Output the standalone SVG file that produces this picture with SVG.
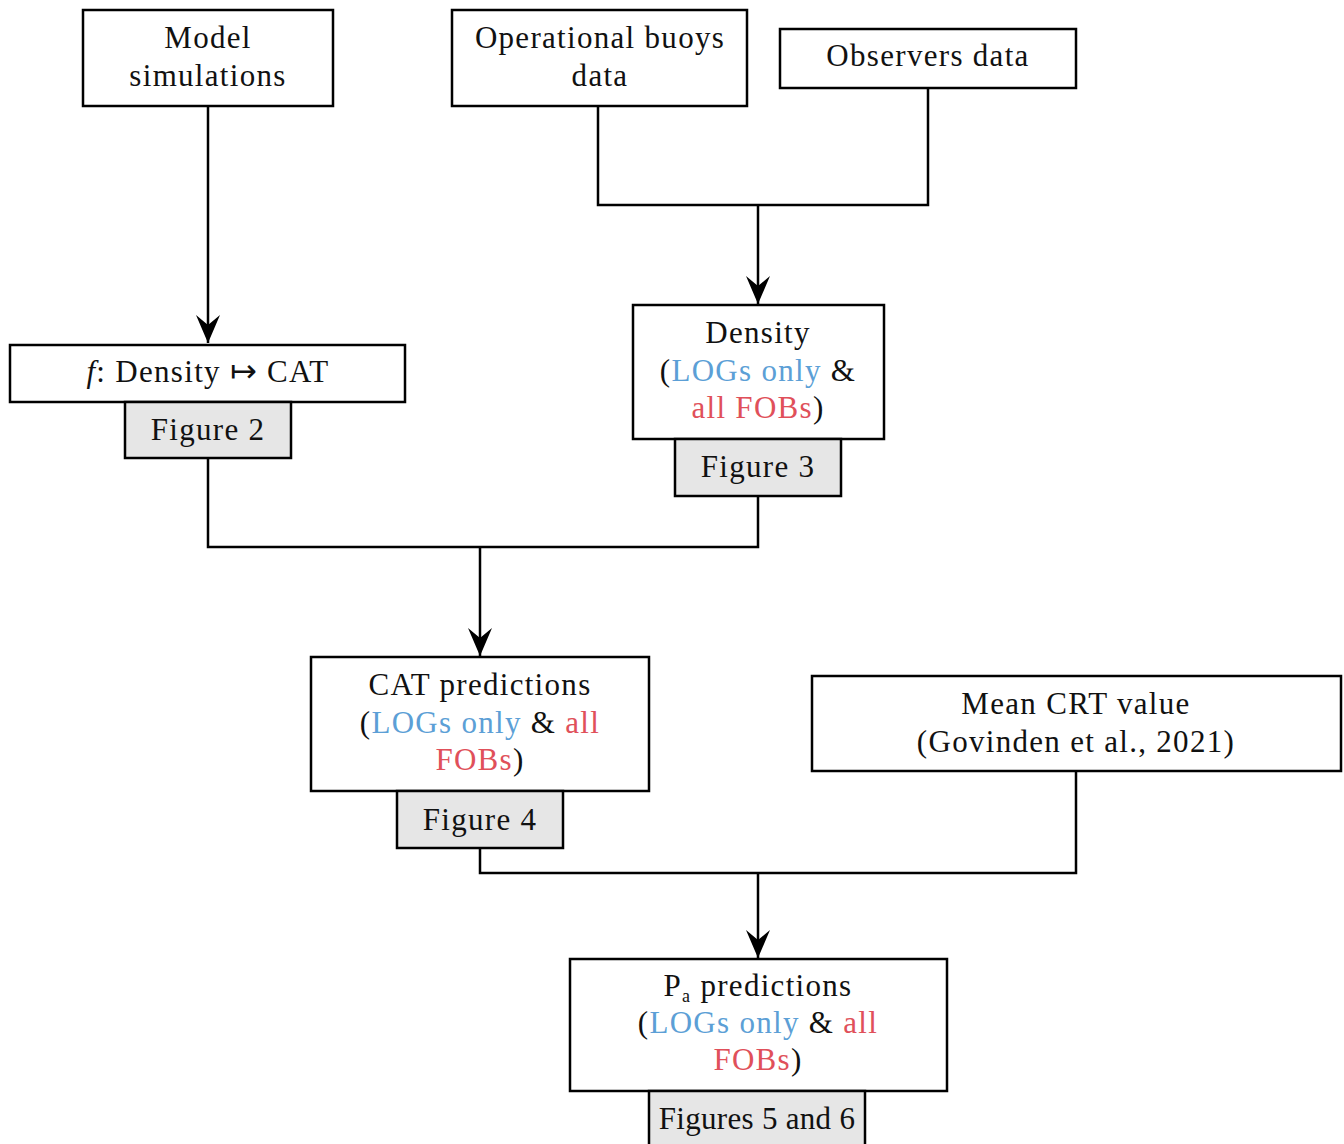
<svg xmlns="http://www.w3.org/2000/svg" width="1344" height="1144" viewBox="0 0 1344 1144">
<style>
.box{fill:#fff;stroke:#000;stroke-width:2.5}
.fig{fill:#e6e6e6;stroke:#000;stroke-width:2.5}
.t{font-family:"Liberation Serif","DejaVu Serif",serif;font-size:31px;fill:#111;text-anchor:middle;letter-spacing:1.3px}
.b{fill:#5c9fd6}
.r{fill:#e0505a}
.c{fill:none;stroke:#000;stroke-width:2.5}
</style>
<defs>
<marker id="arr" viewBox="-30 -14 32 28" refX="0" refY="0" markerWidth="32" markerHeight="28" markerUnits="userSpaceOnUse" orient="auto">
<path d="M0,0 L-28,-12 L-18,0 L-28,12 Z" fill="#000"/>
</marker>
</defs>
<rect width="1344" height="1144" fill="#fff"/>
<g id="connectors">
<path class="c" d="M208,106 V343" marker-end="url(#arr)"/>
<path class="c" d="M598,106 V205 H928 V88"/>
<path class="c" d="M758,205 V304" marker-end="url(#arr)"/>
<path class="c" d="M208,458 V547 H758 V496"/>
<path class="c" d="M480,547 V656" marker-end="url(#arr)"/>
<path class="c" d="M480,848 V873 H1076 V771"/>
<path class="c" d="M758,873 V958" marker-end="url(#arr)"/>
</g>
<g id="model">
<rect class="box" x="83" y="10" width="250" height="96"/>
<text class="t" x="208" y="48">Model</text>
<text class="t" x="208" y="86">simulations</text>
</g>
<g id="buoys">
<rect class="box" x="452" y="10" width="295" height="96"/>
<text class="t" x="600" y="48">Operational buoys</text>
<text class="t" x="600" y="86">data</text>
</g>
<g id="observers">
<rect class="box" x="780" y="29" width="296" height="59"/>
<text class="t" x="928" y="66">Observers data</text>
</g>
<g id="fmap">
<rect class="box" x="10" y="345" width="395" height="57"/>
<text class="t" x="208" y="382"><tspan font-style="italic">f</tspan>: Density <tspan font-family="DejaVu Sans" font-size="32">↦</tspan> CAT</text>
</g>
<g id="fig2">
<rect class="fig" x="125" y="402" width="166" height="56"/>
<text class="t" x="208" y="440">Figure 2</text>
</g>
<g id="density">
<rect class="box" x="633" y="305" width="251" height="134"/>
<text class="t" x="758" y="343">Density</text>
<text class="t" x="758" y="381">(<tspan class="b">LOGs only</tspan> &amp;</text>
<text class="t" x="758" y="418"><tspan class="r">all FOBs</tspan>)</text>
</g>
<g id="fig3">
<rect class="fig" x="675" y="439" width="166" height="57"/>
<text class="t" x="758" y="477">Figure 3</text>
</g>
<g id="cat">
<rect class="box" x="311" y="657" width="338" height="134"/>
<text class="t" x="480" y="695">CAT predictions</text>
<text class="t" x="480" y="733">(<tspan class="b">LOGs only</tspan> &amp; <tspan class="r">all</tspan></text>
<text class="t" x="480" y="770"><tspan class="r">FOBs</tspan>)</text>
</g>
<g id="fig4">
<rect class="fig" x="397" y="791" width="166" height="57"/>
<text class="t" x="480" y="830">Figure 4</text>
</g>
<g id="crt">
<rect class="box" x="812" y="676" width="529" height="95"/>
<text class="t" x="1076" y="714">Mean CRT value</text>
<text class="t" x="1076" y="752">(Govinden et al., 2021)</text>
</g>
<g id="pa">
<rect class="box" x="570" y="959" width="377" height="132"/>
<text class="t" x="758" y="996">P<tspan font-size="18" dy="6">a</tspan><tspan dy="-6"> predictions</tspan></text>
<text class="t" x="758" y="1033">(<tspan class="b">LOGs only</tspan> &amp; <tspan class="r">all</tspan></text>
<text class="t" x="758" y="1070"><tspan class="r">FOBs</tspan>)</text>
</g>
<g id="fig56">
<rect class="fig" x="649" y="1091" width="216" height="60"/>
<text class="t" x="757" y="1129" style="letter-spacing:0.3px">Figures 5 and 6</text>
</g>
</svg>
